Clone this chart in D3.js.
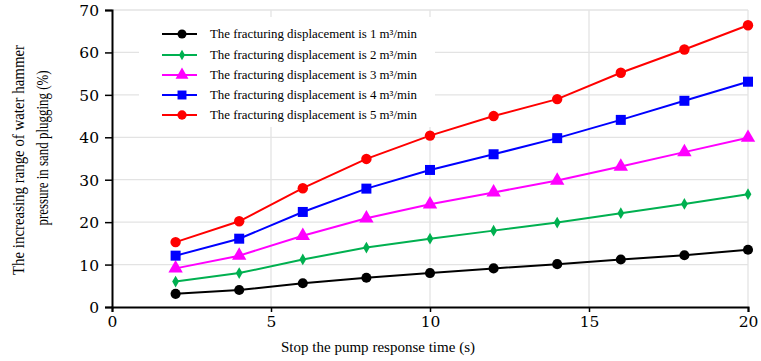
<!DOCTYPE html>
<html><head><meta charset="utf-8">
<script src="https://cdn.jsdelivr.net/npm/d3@7"></script>
<style>body{margin:0;background:#fff}svg{display:block}</style>
</head><body>
<svg id="c" width="761" height="361"></svg>
<script>
const times = [2,4,6,8,10,12,14,16,18,20];
const s1 = [3.1,4.0,5.6,6.9,8.0,9.1,10.1,11.2,12.2,13.5];
const s2 = [6.0,8.0,11.2,14.0,16.1,18.0,19.9,22.1,24.3,26.6];
const s3 = [9.1,12.1,16.8,20.9,24.2,27.0,29.8,33.1,36.5,39.9];
const s4 = [12.1,16.1,22.4,27.9,32.3,36.0,39.8,44.1,48.6,53.1];
const s5 = [15.3,20.2,28.0,34.9,40.4,45.0,49.0,55.2,60.7,66.4];
const seriesNames = ["The fracturing displacement is 1 m\u00B3/min","The fracturing displacement is 2 m\u00B3/min","The fracturing displacement is 3 m\u00B3/min","The fracturing displacement is 4 m\u00B3/min","The fracturing displacement is 5 m\u00B3/min"];
const xTicks = [0,5,10,15,20];
const yTicks = [0,10,20,30,40,50,60,70];
const xLabel = "Stop the pump response time (s)";
const yLabel1 = "The increasing range of water hammer";
const yLabel2 = "pressure in sand plugging  (%)";

const colors = ["#000000","#00b050","#ff00ff","#0000ff","#ff0000"];
const shapes = [d3.symbolCircle,d3.symbolDiamond,d3.symbolTriangle,d3.symbolSquare,d3.symbolCircle];
const sizes = [80,40,90,100,85];
const series = [s1,s2,s3,s4,s5];

const svg = d3.select("#c");
const L=112,R=748,T=10,B=307;
const x = d3.scaleLinear().domain([0,20]).range([L,R]);
const y = d3.scaleLinear().domain([0,70]).range([B,T]);
const serif = "'Liberation Serif', 'Times New Roman', serif";
const wide = "'DejaVu Serif', serif";

// grid
const g = svg.append("g");
g.selectAll(".gx").data(xTicks.slice(1)).enter().append("line")
 .attr("x1",d=>x(d)).attr("x2",d=>x(d)).attr("y1",T).attr("y2",B)
 .attr("stroke","#e3e3e3").attr("stroke-width",1.3);
g.selectAll(".gy").data(yTicks.slice(1)).enter().append("line")
 .attr("x1",L).attr("x2",R).attr("y1",d=>y(d)).attr("y2",d=>y(d))
 .attr("stroke","#e3e3e3").attr("stroke-width",1.3);

// axes
const xa = svg.append("g").attr("transform",`translate(0,${B})`)
 .call(d3.axisBottom(x).tickValues(xTicks).tickSize(5).tickPadding(4).tickFormat(d3.format("d")));
const ya = svg.append("g").attr("transform",`translate(${L},0)`)
 .call(d3.axisLeft(y).tickValues(yTicks).tickSize(7).tickPadding(6).tickFormat(d3.format("d")));
[xa,ya].forEach(a=>{
 a.attr("font-family",null);
 a.select(".domain").attr("stroke","#000").attr("stroke-width",2);
 a.selectAll(".tick line").attr("stroke","#000").attr("stroke-width",1.5);
 a.selectAll("text").style("font-family",wide).style("font-size","15.5px").attr("fill","#000");
});
ya.selectAll("text").attr("dy","0.35em");

// legend box
svg.append("rect").attr("x",139).attr("y",17).attr("width",296).attr("height",110).attr("fill","#fff");

// lines
const line = d3.line().x((d,i)=>x(times[i])).y(d=>y(d));
series.forEach((s,k)=>{
 svg.append("path").datum(s).attr("d",line).attr("fill","none")
  .attr("stroke",colors[k]).attr("stroke-width",2);
 svg.selectAll(null).data(s).enter().append("path")
  .attr("d",d3.symbol().type(shapes[k]).size(sizes[k]))
  .attr("transform",(d,i)=>`translate(${x(times[i])},${y(d)})`)
  .attr("fill",colors[k]);
});

// legend
const legY = [34,55,75,95,115];
seriesNames.forEach((n,k)=>{
 svg.append("line").attr("x1",162).attr("x2",197).attr("y1",legY[k]).attr("y2",legY[k])
  .attr("stroke",colors[k]).attr("stroke-width",2);
 svg.append("path").attr("d",d3.symbol().type(shapes[k]).size(sizes[k]*0.8))
  .attr("transform",`translate(182,${legY[k]})`).attr("fill",colors[k]);
 svg.append("text").attr("x",210).attr("y",legY[k]).attr("dy","0.35em")
  .style("font-family",serif).style("font-size","12px").attr("fill","#000")
  .attr("textLength",207).attr("lengthAdjust","spacingAndGlyphs").text(n);
});

// axis labels
svg.append("text").attr("x",378).attr("y",352).attr("text-anchor","middle")
 .style("font-family",serif).style("font-size","15px")
 .attr("textLength",194).attr("lengthAdjust","spacingAndGlyphs").text(xLabel);
svg.append("text").attr("transform","translate(24,160) rotate(-90)").attr("text-anchor","middle")
 .style("font-family",serif).style("font-size","16px").attr("textLength",230).attr("lengthAdjust","spacingAndGlyphs").text(yLabel1);
svg.append("text").attr("transform","translate(48,148) rotate(-90)").attr("text-anchor","middle")
 .style("font-family",serif).style("font-size","16px").attr("textLength",155).attr("lengthAdjust","spacingAndGlyphs").text(yLabel2);
</script>
</body></html>
